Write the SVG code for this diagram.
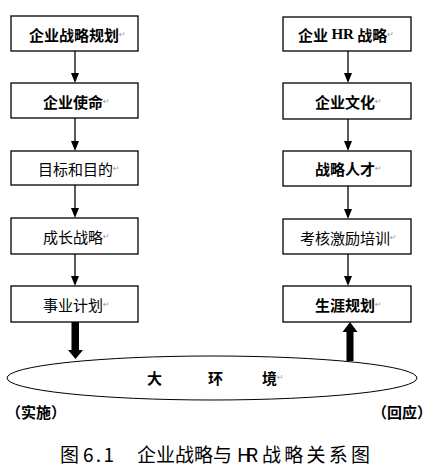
<svg xmlns="http://www.w3.org/2000/svg" width="435" height="475" viewBox="0 0 435 475">
<style>
.box{fill:#fff;stroke:#000;stroke-width:1.3}
.t{font-family:"Noto Sans CJK SC","Noto Sans",sans-serif;font-size:15px;fill:#000;dominant-baseline:central}
.b{font-weight:600}
.m{font-size:8px;fill:#999;font-family:"DejaVu Sans",sans-serif;font-weight:normal}
.ln{stroke:#000;stroke-width:1.3;fill:none}
.cap{font-family:"Noto Sans CJK SC",sans-serif;font-size:19px;fill:#000;font-weight:normal}
</style>
<rect width="435" height="475" fill="#fff"/>
<g id="connectors">
<path class="ln" d="M75,51 V74"/><path d="M71,73 H79 L75,83 Z"/>
<path class="ln" d="M75,118 V142"/><path d="M71,141 H79 L75,151 Z"/>
<path class="ln" d="M75,185 V209"/><path d="M71,208 H79 L75,218 Z"/>
<path class="ln" d="M75,254 V277"/><path d="M71,276 H79 L75,286 Z"/>
<path class="ln" d="M348,51 V74"/><path d="M344,73 H352 L348,83 Z"/>
<path class="ln" d="M348,119 V142"/><path d="M344,141 H352 L348,151 Z"/>
<path class="ln" d="M348,186 V210"/><path d="M344,209 H352 L348,219 Z"/>
<path class="ln" d="M348,254 V277"/><path d="M344,276 H352 L348,286 Z"/>
<path d="M71.5,322 H79 V350 H83 L75.5,359 L68,350 H71.5 Z" fill="#000"/>
<path d="M346.5,361 H353.5 V332 H357.5 L350,322 L342.5,332 H346.5 Z" fill="#000"/>
</g>
<g id="env">
<ellipse cx="212" cy="378" rx="205" ry="22" fill="none" stroke="#000" stroke-width="1"/>
<text class="t b" x="147" y="377">大</text>
<text class="t b" x="208" y="377">环</text>
<text class="t b" x="262" y="377">境<tspan class="m">↵</tspan></text>
</g>
<g id="n1"><rect class="box" x="11" y="16" width="127" height="35"/><text class="t b" x="29" y="34">企业战略规划<tspan class="m">↵</tspan></text></g>
<g id="n2"><rect class="box" x="11" y="83" width="127" height="35"/><text class="t b" x="43" y="101">企业使命<tspan class="m">↵</tspan></text></g>
<g id="n3"><rect class="box" x="11" y="151" width="127" height="34"/><text class="t" x="38" y="168">目标和目的<tspan class="m">↵</tspan></text></g>
<g id="n4"><rect class="box" x="11" y="218" width="127" height="36"/><text class="t" x="43" y="236">成长战略<tspan class="m">↵</tspan></text></g>
<g id="n5"><rect class="box" x="11" y="286" width="127" height="36"/><text class="t" x="43" y="304">事业计划<tspan class="m">↵</tspan></text></g>
<g id="n6"><rect class="box" x="283" y="17" width="128" height="34"/><text class="t b" x="298" y="34">企业 <tspan font-family="Liberation Serif" font-weight="bold">HR</tspan> 战略<tspan class="m">↵</tspan></text></g>
<g id="n7"><rect class="box" x="283" y="83" width="128" height="36"/><text class="t b" x="315" y="101">企业文化<tspan class="m">↵</tspan></text></g>
<g id="n8"><rect class="box" x="283" y="151" width="128" height="35"/><text class="t b" x="315" y="168">战略人才<tspan class="m">↵</tspan></text></g>
<g id="n9"><rect class="box" x="283" y="219" width="128" height="35"/><text class="t" x="300" y="237">考核激励培训<tspan class="m">↵</tspan></text></g>
<g id="n10"><rect class="box" x="283" y="286" width="128" height="36"/><text class="t b" x="315" y="304">生涯规划<tspan class="m">↵</tspan></text></g>
<text class="t b" x="6" y="411" font-size="14">（实施）</text>
<text class="t b" x="372" y="411" font-size="14">（回应）</text>
<g id="caption">
<text class="cap" x="60" y="462">图</text>
<text class="cap" x="83" y="462" font-family="Liberation Mono" textLength="31">6.1</text>
<text class="cap" x="137" y="462" textLength="95">企业战略与</text>
<text class="cap" x="237" y="462" font-family="Liberation Sans" textLength="21">HR</text>
<text class="cap" x="262" y="462" textLength="108">战略关系图</text>
</g>
</svg>
